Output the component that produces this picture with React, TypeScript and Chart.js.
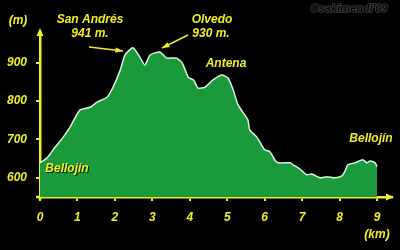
import React, { useEffect, useRef } from "react";
import { Chart, registerables } from "chart.js";

Chart.register(...registerables);

const distanceKm = [0, 0.19, 0.35, 0.62, 0.8, 1.07, 1.34, 1.52, 1.79, 1.95, 2.14, 2.27, 2.48, 2.67, 2.8, 2.94, 3.2, 3.38, 3.65, 3.8, 3.96, 4.1, 4.22, 4.4, 4.62, 4.85, 5.02, 5.16, 5.29, 5.55, 5.6, 5.79, 6.0, 6.14, 6.28, 6.36, 6.68, 6.76, 6.94, 7.12, 7.26, 7.48, 7.66, 7.88, 8.06, 8.14, 8.22, 8.41, 8.62, 8.73, 8.81, 8.95, 9.0];
const elevationM = [639, 652, 673, 706, 732, 777, 784, 797, 810, 836, 880, 920, 939, 914, 894, 920, 928, 912, 912, 899, 862, 855, 834, 836, 855, 868, 860, 829, 790, 751, 725, 706, 673, 668, 645, 639, 639, 634, 623, 608, 610, 600, 603, 600, 605, 616, 634, 639, 647, 639, 644, 639, 629];
const xTickKm = [0, 1, 2, 3, 4, 5, 6, 7, 8, 9];
const yTickM = [600, 700, 800, 900];

const YELLOW = "#eeee22";
const FONT = "italic bold 12px 'Liberation Sans', Arial, sans-serif";

const overlay = {
  id: "overlay",
  afterDraw(chart: any) {
    const ctx = chart.ctx;
    const { left, right, top, bottom } = chart.chartArea;
    ctx.save();
    // axis overhang past origin
    ctx.strokeStyle = YELLOW;
    ctx.lineWidth = 2.5;
    ctx.beginPath();
    ctx.moveTo(left, bottom);
    ctx.lineTo(left, bottom + 3);
    ctx.moveTo(left, bottom);
    ctx.lineTo(left - 4, bottom);
    ctx.stroke();
    // axis arrows
    ctx.fillStyle = YELLOW;
    ctx.beginPath();
    ctx.moveTo(left, top - 4);
    ctx.lineTo(left - 3.5, top + 4);
    ctx.lineTo(left + 3.5, top + 4);
    ctx.closePath();
    ctx.fill();
    ctx.beginPath();
    ctx.moveTo(right + 2, bottom);
    ctx.lineTo(right - 6, bottom - 3.5);
    ctx.lineTo(right - 6, bottom + 3.5);
    ctx.closePath();
    ctx.fill();

    // arrows to peaks
    const arrow = (x1: number, y1: number, x2: number, y2: number) => {
      ctx.strokeStyle = YELLOW;
      ctx.fillStyle = YELLOW;
      ctx.lineWidth = 1.5;
      ctx.beginPath();
      ctx.moveTo(x1, y1);
      ctx.lineTo(x2, y2);
      ctx.stroke();
      const a = Math.atan2(y2 - y1, x2 - x1);
      ctx.beginPath();
      ctx.moveTo(x2, y2);
      ctx.lineTo(x2 - 8 * Math.cos(a - 0.35), y2 - 8 * Math.sin(a - 0.35));
      ctx.lineTo(x2 - 8 * Math.cos(a + 0.35), y2 - 8 * Math.sin(a + 0.35));
      ctx.closePath();
      ctx.fill();
    };
    arrow(89, 47, 123, 51);
    arrow(188, 35, 162, 48);

    // labels
    ctx.font = FONT;
    ctx.textAlign = "center";
    ctx.textBaseline = "middle";
    ctx.shadowColor = "rgba(0,0,0,0.9)";
    ctx.shadowOffsetX = 1;
    ctx.shadowOffsetY = 1;
    ctx.shadowBlur = 1;
    ctx.fillStyle = YELLOW;
    const texts: [string, number, number][] = [
      ["(m)", 18, 21],
      ["San Andrés", 90, 20],
      ["941 m.", 90, 34],
      ["Olvedo", 212, 20],
      ["930 m.", 211, 34],
      ["Antena", 226, 64],
      ["Bellojín", 67, 169],
      ["Bellojín", 371, 139],
      ["(km)", 377, 235],
    ];
    texts.forEach(([t, x, y]) => ctx.fillText(t, x, y));

    // watermark
    ctx.shadowColor = "transparent";
    ctx.font = "italic bold 11px 'Liberation Sans', Arial, sans-serif";
    ctx.lineWidth = 1.6;
    ctx.strokeStyle = "#3c3c3c";
    ctx.strokeText("Osakimendi'09", 349, 9);
    ctx.fillStyle = "#080808";
    ctx.fillText("Osakimendi'09", 349, 9);
    ctx.restore();
  },
};

export default function App() {
  const ref = useRef<HTMLCanvasElement>(null);
  useEffect(() => {
    if (!ref.current) return;
    const points = distanceKm.map((x, i) => ({ x, y: elevationM[i] }));
    const chart = new Chart(ref.current, {
      type: "line",
      data: {
        datasets: [
          {
            data: points,
            borderColor: "rgba(225,255,225,0.95)",
            borderWidth: 1.5,
            backgroundColor: "#1a9a3c",
            fill: "start",
            pointRadius: 0,
            tension: 0.2,
          },
        ],
      },
      options: {
        animation: false,
        responsive: false,
        layout: { padding: { top: 32, right: 8, left: 0, bottom: 0 } },
        plugins: { legend: { display: false }, tooltip: { enabled: false } },
        scales: {
          x: {
            type: "linear",
            min: 0,
            max: 9.4,
            afterBuildTicks: (axis: any) => {
              axis.ticks = xTickKm.map((v) => ({ value: v }));
            },
            afterFit: (s: any) => {
              s.height = 53;
            },
            border: { display: true, color: YELLOW, width: 2.5 },
            grid: { display: true, drawOnChartArea: false, drawTicks: true, tickLength: 4, color: YELLOW, lineWidth: 2 },
            ticks: { color: YELLOW, font: { family: "'Liberation Sans', Arial", size: 12, style: "italic", weight: "bold" }, padding: 9, maxRotation: 0, autoSkip: false },
          },
          y: {
            type: "linear",
            min: 550,
            max: 980,
            afterBuildTicks: (axis: any) => {
              axis.ticks = yTickM.map((v) => ({ value: v }));
            },
            afterFit: (s: any) => {
              s.width = 40;
            },
            border: { display: true, color: YELLOW, width: 2.5 },
            grid: { display: true, drawOnChartArea: false, drawTicks: true, tickLength: 4, color: YELLOW, lineWidth: 2 },
            ticks: { color: YELLOW, font: { family: "'Liberation Sans', Arial", size: 12, style: "italic", weight: "bold" }, padding: 9 },
          },
        },
      },
      plugins: [overlay],
    } as any);
    return () => chart.destroy();
  }, []);
  return (
    <div style={{ position: "fixed", left: 0, top: 0, width: 400, height: 250, background: "#000" }}>
      <canvas ref={ref} width={400} height={250} style={{ display: "block", width: 400, height: 250 }} />
    </div>
  );
}
